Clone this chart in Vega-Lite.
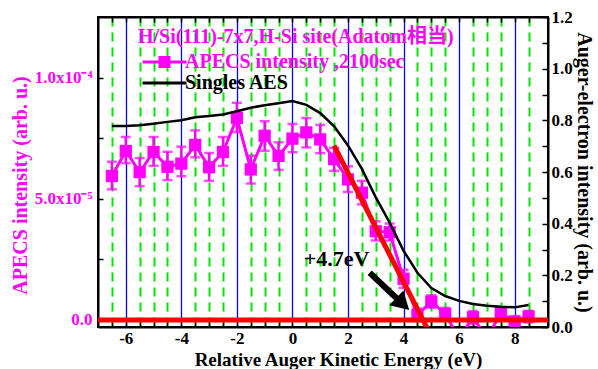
{
  "$schema": "https://vega.github.io/schema/vega-lite/v6.json",
  "width": 450,
  "height": 310,
  "autosize": {"type": "none"},
  "padding": {"left": 98, "top": 17, "right": 50, "bottom": 42},
  "background": "white",
  "config": {
    "view": {"stroke": "black", "strokeWidth": 2},
    "font": "Liberation Serif",
    "axis": {
      "labelFont": "Liberation Serif",
      "titleFont": "Liberation Serif",
      "labelFontWeight": "bold",
      "titleFontWeight": "bold",
      "domainColor": "black",
      "domainWidth": 2,
      "tickColor": "black",
      "tickWidth": 1.5
    }
  },
  "datasets": {
    "apecs": [
      {"x": -6.5, "y": 5.94e-5, "lo": 5.39e-5, "hi": 6.53e-5, "series": "APECS intensity ,2100sec"},
      {"x": -6.0, "y": 6.97e-5, "lo": 6.47e-5, "hi": 7.55e-5, "series": "APECS intensity ,2100sec"},
      {"x": -5.5, "y": 6.10e-5, "lo": 5.52e-5, "hi": 6.68e-5, "series": "APECS intensity ,2100sec"},
      {"x": -5.0, "y": 6.93e-5, "lo": 6.36e-5, "hi": 7.55e-5, "series": "APECS intensity ,2100sec"},
      {"x": -4.5, "y": 6.32e-5, "lo": 5.77e-5, "hi": 6.94e-5, "series": "APECS intensity ,2100sec"},
      {"x": -4.0, "y": 6.45e-5, "lo": 5.93e-5, "hi": 7.15e-5, "series": "APECS intensity ,2100sec"},
      {"x": -3.5, "y": 7.22e-5, "lo": 6.71e-5, "hi": 7.82e-5, "series": "APECS intensity ,2100sec"},
      {"x": -3.0, "y": 6.30e-5, "lo": 5.74e-5, "hi": 6.89e-5, "series": "APECS intensity ,2100sec"},
      {"x": -2.5, "y": 6.93e-5, "lo": 6.36e-5, "hi": 7.55e-5, "series": "APECS intensity ,2100sec"},
      {"x": -2.0, "y": 8.34e-5, "lo": 7.75e-5, "hi": 8.96e-5, "series": "APECS intensity ,2100sec"},
      {"x": -1.5, "y": 6.21e-5, "lo": 5.63e-5, "hi": 6.78e-5, "series": "APECS intensity ,2100sec"},
      {"x": -1.0, "y": 7.60e-5, "lo": 6.98e-5, "hi": 8.20e-5, "series": "APECS intensity ,2100sec"},
      {"x": -0.5, "y": 6.77e-5, "lo": 6.19e-5, "hi": 7.33e-5, "series": "APECS intensity ,2100sec"},
      {"x": 0.0, "y": 7.48e-5, "lo": 6.92e-5, "hi": 8.09e-5, "series": "APECS intensity ,2100sec"},
      {"x": 0.5, "y": 7.74e-5, "lo": 7.12e-5, "hi": 8.33e-5, "series": "APECS intensity ,2100sec"},
      {"x": 1.0, "y": 7.45e-5, "lo": 6.88e-5, "hi": 8.05e-5, "series": "APECS intensity ,2100sec"},
      {"x": 1.5, "y": 6.64e-5, "lo": 6.15e-5, "hi": 7.10e-5, "series": "APECS intensity ,2100sec"},
      {"x": 2.0, "y": 5.80e-5, "lo": 5.28e-5, "hi": 6.34e-5, "series": "APECS intensity ,2100sec"},
      {"x": 2.5, "y": 5.25e-5, "lo": 4.77e-5, "hi": 5.74e-5, "series": "APECS intensity ,2100sec"},
      {"x": 3.0, "y": 3.66e-5, "lo": 3.28e-5, "hi": 4.07e-5, "series": "APECS intensity ,2100sec"},
      {"x": 3.5, "y": 3.62e-5, "lo": 3.28e-5, "hi": 3.98e-5, "series": "APECS intensity ,2100sec"},
      {"x": 4.0, "y": 1.70e-5, "lo": 1.33e-5, "hi": 2.07e-5, "series": "APECS intensity ,2100sec"},
      {"x": 4.5, "y": 0.21e-5, "lo": -0.05e-5, "hi": 0.47e-5, "series": "APECS intensity ,2100sec"},
      {"x": 5.0, "y": 0.76e-5, "lo": 0.50e-5, "hi": 1.02e-5, "series": "APECS intensity ,2100sec"},
      {"x": 5.5, "y": 0.25e-5, "lo": 0.0, "hi": 0.50e-5, "series": "APECS intensity ,2100sec"},
      {"x": 6.0, "y": -0.75e-5, "lo": -1.0e-5, "hi": -0.5e-5, "series": "APECS intensity ,2100sec"},
      {"x": 6.5, "y": 0.11e-5, "lo": -0.15e-5, "hi": 0.37e-5, "series": "APECS intensity ,2100sec"},
      {"x": 7.0, "y": -0.75e-5, "lo": -1.0e-5, "hi": -0.5e-5, "series": "APECS intensity ,2100sec"},
      {"x": 7.5, "y": 0.28e-5, "lo": 0.03e-5, "hi": 0.53e-5, "series": "APECS intensity ,2100sec"},
      {"x": 8.0, "y": -0.07e-5, "lo": -0.30e-5, "hi": 0.16e-5, "series": "APECS intensity ,2100sec"},
      {"x": 8.5, "y": 0.14e-5, "lo": -0.10e-5, "hi": 0.38e-5, "series": "APECS intensity ,2100sec"}
    ],
    "aes": [
      {"x": -6.5, "v": 0.778}, {"x": -6.0, "v": 0.778}, {"x": -5.5, "v": 0.781},
      {"x": -5.0, "v": 0.787}, {"x": -4.5, "v": 0.794}, {"x": -4.0, "v": 0.800},
      {"x": -3.5, "v": 0.812}, {"x": -3.0, "v": 0.817}, {"x": -2.5, "v": 0.823},
      {"x": -2.0, "v": 0.835}, {"x": -1.5, "v": 0.849}, {"x": -1.0, "v": 0.858},
      {"x": -0.5, "v": 0.866}, {"x": 0.0, "v": 0.875}, {"x": 0.5, "v": 0.860},
      {"x": 1.0, "v": 0.828}, {"x": 1.5, "v": 0.777}, {"x": 2.0, "v": 0.703},
      {"x": 2.5, "v": 0.612}, {"x": 3.0, "v": 0.502}, {"x": 3.5, "v": 0.404},
      {"x": 4.0, "v": 0.295}, {"x": 4.5, "v": 0.210}, {"x": 5.0, "v": 0.151},
      {"x": 5.5, "v": 0.120}, {"x": 6.0, "v": 0.101}, {"x": 6.5, "v": 0.089},
      {"x": 7.0, "v": 0.082}, {"x": 7.5, "v": 0.078}, {"x": 8.0, "v": 0.076},
      {"x": 8.5, "v": 0.085}
    ]
  },
  "layer": [
    {
      "data": {"name": "apecs"},
      "mark": {"type": "rule", "color": "#ff00ff", "strokeWidth": 2.5, "clip": true},
      "encoding": {
        "x": {
          "field": "x", "type": "quantitative",
          "scale": {"domain": [-7, 9.2], "nice": false, "zero": false},
          "axis": {
            "values": [-6.5,-6,-5.5,-5,-4.5,-4,-3.5,-3,-2.5,-2,-1.5,-1,-0.5,0,0.5,1,1.5,2,2.5,3,3.5,4,4.5,5,5.5,6,6.5,7,7.5,8,8.5],
            "labelExpr": "datum.value % 2 === 0 ? '' + datum.value : ''",
            "labelFont": "Liberation Serif",
            "labelFontWeight": "bold",
            "labelFontSize": 17,
            "labelColor": "black",
            "labelPadding": 8,
            "tickSize": -5,
            "grid": true,
            "gridColor": {"condition": {"test": "datum.value % 2 === 0", "value": "#0000ff"}, "value": "#00e600"},
            "gridDash": {"condition": {"test": "datum.value % 2 === 0", "value": []}, "value": [9, 6]},
            "gridWidth": {"condition": {"test": "datum.value % 2 === 0", "value": 1.3}, "value": 2},
            "title": "Relative Auger Kinetic Energy (eV)",
            "titleFont": "Liberation Serif",
            "titleFontSize": 19,
            "titleColor": "black",
            "titleX": 240,
            "titleY": 38,
            "titleAlign": "center",
            "titleBaseline": "alphabetic"
          }
        },
        "y": {
          "field": "lo", "type": "quantitative",
          "scale": {"domain": [-2.9e-6, 1.25e-4], "nice": false, "zero": false},
          "axis": {
            "values": [0, 2.5e-5, 5e-5, 7.5e-5, 1e-4],
            "labelExpr": "datum.value === 0 ? '0.0' : abs(datum.value - 0.00005) < 1e-9 ? '5.0x10⁻⁵' : abs(datum.value - 0.0001) < 1e-9 ? '1.0x10⁻⁴' : ''",
            "labelFont": "Liberation Serif",
            "labelFontWeight": "bold",
            "labelFontSize": 17,
            "labelColor": "#ff00ff",
            "labelPadding": 11,
            "tickSize": -5,
            "grid": false,
            "title": "APECS intensity (arb. u.)",
            "titleFont": "Liberation Serif",
            "titleFontSize": 20,
            "titleColor": "#ff00ff",
            "titleX": -78,
            "titleY": 168,
            "titleAngle": -90,
            "titleAlign": "center",
            "titleBaseline": "middle"
          }
        },
        "y2": {"field": "hi"}
      }
    },
    {
      "data": {"name": "apecs"},
      "mark": {"type": "tick", "orient": "horizontal", "color": "#ff00ff", "thickness": 2.5, "size": 10, "clip": true},
      "encoding": {
        "x": {"field": "x", "type": "quantitative", "axis": null},
        "y": {"field": "lo", "type": "quantitative", "scale": {"domain": [-2.9e-6, 1.25e-4], "nice": false, "zero": false}, "axis": null}
      }
    },
    {
      "data": {"name": "apecs"},
      "mark": {"type": "tick", "orient": "horizontal", "color": "#ff00ff", "thickness": 2.5, "size": 10, "clip": true},
      "encoding": {
        "x": {"field": "x", "type": "quantitative", "axis": null},
        "y": {"field": "hi", "type": "quantitative", "scale": {"domain": [-2.9e-6, 1.25e-4], "nice": false, "zero": false}, "axis": null}
      }
    },
    {
      "data": {"name": "apecs"},
      "mark": {"type": "line", "strokeWidth": 3, "clip": true},
      "encoding": {
        "x": {"field": "x", "type": "quantitative", "axis": null},
        "y": {"field": "y", "type": "quantitative", "scale": {"domain": [-2.9e-6, 1.25e-4], "nice": false, "zero": false}, "axis": null},
        "color": {
          "field": "series", "type": "nominal",
          "scale": {"domain": ["APECS intensity ,2100sec", "Singles AES"], "range": ["#ff00ff", "black"]},
          "legend": {
            "orient": "none",
            "legendX": 40,
            "legendY": 10,
            "padding": 0,
            "title": "H/Si(111)-7x7,H-Si site(Adatom相当)",
            "titleColor": "#ff00ff",
            "titleFont": "Liberation Serif, Noto Sans CJK JP",
            "titleFontSize": 20,
            "titleFontWeight": "bold",
            "titleLimit": 1000,
            "titlePadding": 5,
            "labelFont": "Liberation Serif",
            "labelFontSize": 20,
            "labelFontWeight": "bold",
            "labelLimit": 1000,
            "labelOffset": 27,
            "rowPadding": 0,
            "symbolSize": 121,
            "symbolStrokeWidth": 3,
            "encode": {
              "symbols": {"update": {
                "shape": {"signal": "datum.value === 'Singles AES' ? 'M-1,0H7' : 'M-1,0H7M2.18,-0.82H3.82V0.82H2.18Z'"},
                "fill": {"signal": "datum.value === 'Singles AES' ? 'transparent' : '#ff00ff'"},
                "stroke": {"signal": "datum.value === 'Singles AES' ? 'black' : '#ff00ff'"},
                "strokeWidth": {"value": 3},
                "opacity": {"value": 1}
              }},
              "labels": {"update": {
                "fill": {"signal": "datum.value === 'Singles AES' ? 'black' : '#ff00ff'"}
              }}
            }
          }
        }
      }
    },
    {
      "data": {"name": "apecs"},
      "mark": {"type": "point", "shape": "square", "filled": true, "color": "#ff00ff", "opacity": 1, "size": 150, "clip": true},
      "encoding": {
        "x": {"field": "x", "type": "quantitative", "axis": null},
        "y": {"field": "y", "type": "quantitative", "scale": {"domain": [-2.9e-6, 1.25e-4], "nice": false, "zero": false}, "axis": null}
      }
    },
    {
      "data": {"name": "aes"},
      "mark": {"type": "line", "color": "black", "strokeWidth": 2.5},
      "encoding": {
        "x": {
          "field": "x", "type": "quantitative",
          "axis": {
            "orient": "top",
            "values": [-6.5,-6,-5.5,-5,-4.5,-4,-3.5,-3,-2.5,-2,-1.5,-1,-0.5,0,0.5,1,1.5,2,2.5,3,3.5,4,4.5,5,5.5,6,6.5,7,7.5,8,8.5],
            "labels": false,
            "tickSize": -5,
            "grid": false,
            "title": null
          }
        },
        "y": {
          "field": "v", "type": "quantitative",
          "scale": {"domain": [0, 1.2], "nice": false, "zero": false},
          "axis": {
            "orient": "right",
            "values": [0, 0.1, 0.2, 0.3, 0.4, 0.5, 0.6, 0.7, 0.8, 0.9, 1.0, 1.1, 1.2],
            "labelExpr": "round(datum.value * 10) % 2 === 0 ? format(datum.value, '.1f') : ''",
            "labelFont": "Liberation Serif",
            "labelFontWeight": "bold",
            "labelFontSize": 17,
            "labelColor": "black",
            "labelPadding": 9,
            "tickSize": -6,
            "grid": false,
            "title": "Auger-electron intensity (arb. u.)",
            "titleFont": "Liberation Serif",
            "titleFontSize": 20,
            "titleColor": "black",
            "titleX": 35,
            "titleY": 155,
            "titleAngle": 90,
            "titleAlign": "center",
            "titleBaseline": "middle"
          }
        }
      }
    },
    {
      "data": {"values": [{}]},
      "mark": {"type": "rule", "color": "#ff0000", "strokeWidth": 5},
      "encoding": {
        "y": {"datum": 0, "type": "quantitative", "scale": {"domain": [-2.9e-6, 1.25e-4], "nice": false, "zero": false}, "axis": null}
      }
    },
    {
      "data": {"values": [{}]},
      "mark": {"type": "rule", "color": "#ff0000", "strokeWidth": 5, "clip": true},
      "encoding": {
        "x": {"datum": 1.5, "type": "quantitative", "axis": null},
        "x2": {"datum": 4.85},
        "y": {"datum": 7.19e-5, "type": "quantitative", "scale": {"domain": [-2.9e-6, 1.25e-4], "nice": false, "zero": false}, "axis": null},
        "y2": {"datum": -0.34e-5}
      }
    },
    {
      "data": {"values": [{}]},
      "mark": {"type": "rule", "color": "black", "strokeWidth": 6},
      "encoding": {
        "x": {"datum": 2.78, "type": "quantitative", "axis": null},
        "x2": {"datum": 3.95},
        "y": {"datum": 1.95e-5, "type": "quantitative", "scale": {"domain": [-2.9e-6, 1.25e-4], "nice": false, "zero": false}, "axis": null},
        "y2": {"datum": 0.68e-5}
      }
    },
    {
      "data": {"values": [{}]},
      "mark": {"type": "point", "shape": "triangle-right", "filled": true, "color": "black", "opacity": 1, "size": 420, "angle": 43.5},
      "encoding": {
        "x": {"datum": 3.97, "type": "quantitative", "axis": null},
        "y": {"datum": 0.66e-5, "type": "quantitative", "scale": {"domain": [-2.9e-6, 1.25e-4], "nice": false, "zero": false}, "axis": null}
      }
    },
    {
      "data": {"values": [{}]},
      "mark": {"type": "text", "text": "+4.7eV", "font": "Liberation Serif", "fontWeight": "bold", "fontSize": 22, "color": "black", "align": "center", "baseline": "middle"},
      "encoding": {
        "x": {"datum": 1.59, "type": "quantitative", "axis": null},
        "y": {"datum": 2.53e-5, "type": "quantitative", "scale": {"domain": [-2.9e-6, 1.25e-4], "nice": false, "zero": false}, "axis": null}
      }
    }
  ],
  "resolve": {"scale": {"y": "independent"}, "axis": {"x": "independent"}}
}
